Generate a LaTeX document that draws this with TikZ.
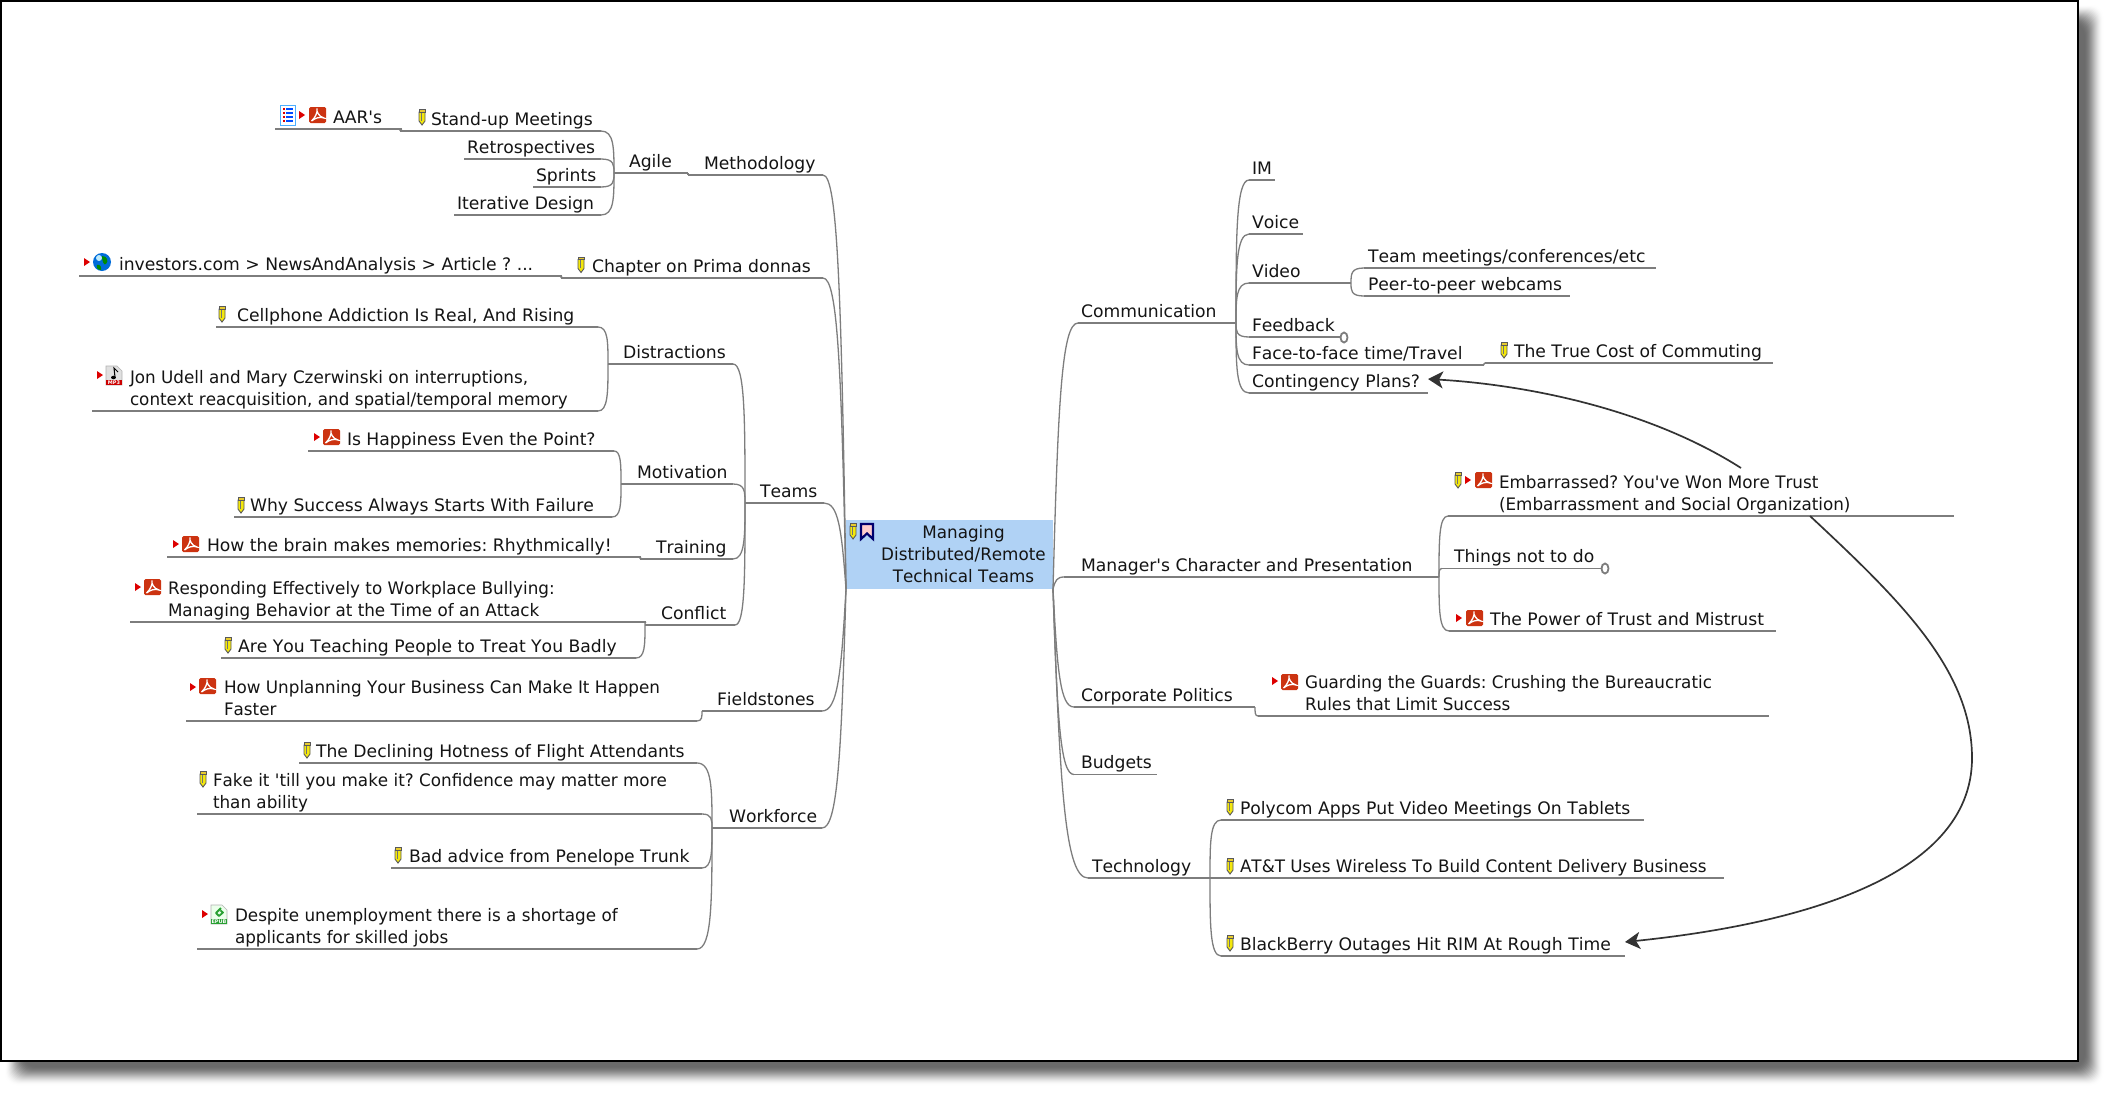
\documentclass[tikz,border=0pt]{standalone}
\usepackage{fontspec}
\newfontfamily\dejavu[Kerning=Off]{DejaVu Sans}
\newfontfamily\dejanar[Kerning=Off,FakeStretch=0.976]{DejaVu Sans}
\usetikzlibrary{calc,arrows.meta,shapes.geometric}
\definecolor{rootblue}{RGB}{176,210,245}
\definecolor{linegray}{RGB}{125,125,125}
\definecolor{pdfred}{RGB}{204,51,17}
\definecolor{tri}{RGB}{221,0,0}
\definecolor{navy2}{RGB}{0,0,110}
\definecolor{pink2}{RGB}{255,205,205}
\definecolor{epub}{RGB}{40,160,50}
\tikzset{
  x=1pt,y=-1pt,
  every node/.style={font=\dejavu\frenchspacing\fontsize{17.2}{22}\selectfont,text=black!92},
  topicbox/.style={inner sep=0pt,outer sep=0pt,anchor=south west},
  toptext/.style={inner sep=0pt,outer sep=0pt,anchor=south west,align=left},
  under/.style={draw=linegray,line width=1.3pt},
  link/.style={draw=linegray,line width=1.3pt},
  crosslink/.style={draw=black!80,line width=1.7pt,-{Stealth[length=15pt,width=17pt,inset=4pt]}},
  foldmark/.style={draw=linegray,line width=1.8pt,fill=white,ellipse,inner sep=0pt,minimum width=7pt,minimum height=10pt},
  penicon/.pic={
    \filldraw[draw=black!65,fill=yellow!95!black,line width=.9pt] (0,3) -- (6,3) -- (6,12) -- (3,16) -- (0,12) -- cycle;
    \fill[black!55] (1.8,3.5) rectangle (2.8,11.5);
    \filldraw[draw=black!65,fill=yellow!60!brown,line width=.9pt] (0,0.5) rectangle (6,3);
  },
  triicon/.pic={\fill[tri] (0,-4) -- (6,0) -- (0,4) -- cycle;},
  pdficon/.pic={
    \fill[pdfred,rounded corners=1.5pt] (0,0) rectangle (17,16);
    \draw[white,line width=1.3pt] (2.5,14) .. controls (6,11) and (9,5) .. (8,1.5) .. controls (7,4) and (10,10) .. (15,11) .. controls (11,9.5) and (6,11) .. (2.5,14);
  },
  listicon/.pic={
    \filldraw[draw=blue!45!cyan!70!white,fill=white,line width=1pt] (0.5,0.5) rectangle (15,20);
    \foreach \yy in {4,8,12,16}{
      \fill[tri] (2.5,\yy-1) rectangle (4.5,\yy+1);
      \fill[blue!70!cyan] (6,\yy-.6) rectangle (13,\yy+.6);
    }
  },
  globeicon/.pic={
    \fill[blue!50!cyan!85!black] (9,9) circle[radius=9];
    \fill[cyan!25!white] (6,5) circle[radius=3];
    \fill[green!55!black] (9,3) .. controls (14,3) and (16,8) .. (13,11) .. controls (11,13) and (9,8) .. (9,3);
    \fill[green!55!black] (4,12) .. controls (7,11) and (9,14) .. (8,17) .. controls (5,17) and (3,15) .. (4,12);
  },
  mpthreeicon/.pic={
    \filldraw[draw=black!30,fill=black!12,line width=.6pt] (0,0) -- (11,0) -- (16,5) -- (16,19) -- (0,19) -- cycle;
    \draw[black,line width=1pt] (9,11) -- (8,2) -- (12,6);
    \fill[black] (7.5,11.5) circle[x radius=2.4,y radius=1.8];
    \fill[red!80!black] (0,13.5) rectangle (16,19);
    \node[inner sep=0pt,text=white,font=\dejavu\fontsize{5}{5}\selectfont\bfseries] (mpthreelabel) at (8,16.3) {MP3};
  },
  epubicon/.pic={
    \filldraw[draw=black!30,fill=green!8,line width=.6pt] (0,0) -- (11,0) -- (16,5) -- (16,19) -- (0,19) -- cycle;
    \draw[epub,line width=1.8pt,line join=round] (10,3) -- (5,8) -- (8,11) -- (12,7.5) -- (9.5,5.5);
    \fill[epub] (0,13.5) rectangle (16,19);
    \node[inner sep=0pt,text=white,font=\dejavu\fontsize{5}{5}\selectfont\bfseries] (epublabel) at (8,16.3) {EPUB};
  },
  bookicon/.pic={
    \filldraw[draw=navy2,fill=pink2,line width=2.2pt] (0,0) -- (12,0) -- (12,15) -- (6,9.5) -- (0,15) -- cycle;
  },
}
% [box height]{name}{left}{right}{underline y}{text x}{text}
\newcommand\topic[7][28]{%
  \node[topicbox,minimum width={#4pt-#3pt},minimum height=#1pt] (#2) at (#3,#5) {};
  \draw[under] (#2.south west) -- (#2.south east);
  \node[toptext] (#2-t) at (#6,#5) {#7\rule[-5.9pt]{0pt}{1pt}};
}
\newcommand\fork[2]{%
  \draw[link] let \p1=(#1),\p2=(#2) in (\p1) .. controls ({\x1},{\y1+.6*(\y2-\y1)}) and ({\x1},{\y2}) .. (\p2);
}
\newcommand\rootlink[2]{%
  \draw[link] let \p1=(#1),\p2=(#2) in (\p1) .. controls ({\x1+.2*(\x2-\x1)},{\y1+.7*(\y2-\y1)}) and ({\x2+.65*(\x1-\x2)},{\y2}) .. (\p2);
}
\begin{document}
\begin{tikzpicture}
\path[use as bounding box,fill=white] (0,0) rectangle (2109,1092);
% drop shadow
\foreach \i in {0,...,20}{
  \pgfmathsetmacro\tval{\i/20}
  \pgfmathsetmacro\pct{58*(3*\tval*\tval-2*\tval*\tval*\tval)}
  \fill[black!\pct,rounded corners=12pt] (4+\i,4+\i) rectangle (2104-\i,1086-\i);
}
\filldraw[fill=white,draw=black,line width=2.4pt] (1.2,1.2) rectangle (2077.8,1060.8);

% root
\node[inner sep=0pt,outer sep=0pt,fill=rootblue,minimum width=207pt,minimum height=69pt] (root) at (949.5,554.5) {};
\node[inner sep=0pt,align=center] (root-t) at (963.5,554.5) {\dejanar Managing\\\dejanar Distributed/Remote\\\dejanar Technical Teams};
\pic at (850,523) {penicon};
\pic at (861,524) {bookicon};

% left side
\topic{methodology}{688}{823}{175}{704}{Methodology}
\topic{agile}{614}{688}{173}{629}{Agile}
\topic{standup}{400}{601}{131}{431}{Stand-up Meetings}
\topic{aars}{275}{402}{129}{333}{AAR's}
\topic{retro}{464}{601}{159}{467}{Retrospectives}
\topic{sprints}{533}{601}{187}{536}{Sprints}
\topic{iter}{454}{601}{215}{457}{Iterative Design}
\topic{chapter}{561}{823}{278}{592}{Chapter on Prima donnas}
\topic{investors}{79}{562}{276}{119}{investors.com > NewsAndAnalysis > Article ? ...}
\topic{teams}{745}{824}{503}{760}{Teams}
\topic{distractions}{608}{733}{364}{623}{Distractions}
\topic{cellphone}{216}{598}{327}{237}{Cellphone Addiction Is Real, And Rising}
\topic[50]{jon}{92}{598}{411}{130}{\dejanar Jon Udell and Mary Czerwinski on interruptions,\\\dejanar context reacquisition, and spatial/temporal memory}
\topic{motivation}{621}{733}{484}{637}{Motivation}
\topic{happiness}{308}{614}{451}{347}{Is Happiness Even the Point?}
\topic{whysuccess}{234}{612}{517}{250}{Why Success Always Starts With Failure}
\topic{training}{640}{733}{559}{656}{Training}
\topic{brain}{167}{641}{557}{207}{How the brain makes memories: Rhythmically!}
\topic{conflict}{645}{735}{625}{661}{Conflict}
\topic[50]{responding}{130}{646}{622}{168}{\dejanar Responding Effectively to Workplace Bullying:\\\dejanar Managing Behavior at the Time of an Attack}
\topic{teaching}{221}{636}{658}{238}{Are You Teaching People to Treat You Badly}
\topic{fieldstones}{702}{822}{711}{717}{Fieldstones}
\topic[50]{unplanning}{186}{697}{721}{224}{\dejanar How Unplanning Your Business Can Make It Happen\\\dejanar Faster}
\topic{workforce}{712}{822}{828}{729}{Workforce}
\topic{declining}{299}{697}{763}{316}{The Declining Hotness of Flight Attendants}
\topic[50]{fake}{197}{702}{814}{213}{\dejanar Fake it 'till you make it? Confidence may matter more\\\dejanar than ability}
\topic{badadvice}{391}{702}{868}{409}{Bad advice from Penelope Trunk}
\topic[50]{despite}{197}{697}{949}{235}{\dejanar Despite unemployment there is a shortage of\\\dejanar applicants for skilled jobs}

% right side
\topic{comm}{1078}{1236}{323}{1081}{Communication}
\topic{im}{1249}{1275}{180}{1252}{IM}
\topic{voice}{1249}{1303}{234}{1252}{Voice}
\topic{video}{1249}{1351}{283}{1252}{Video}
\topic{teammeet}{1364}{1656}{268}{1368}{Team meetings/conferences/etc}
\topic{peer}{1364}{1570}{296}{1368}{Peer-to-peer webcams}
\topic{feedback}{1249}{1340}{337}{1252}{Feedback}
\topic{face}{1249}{1484}{365}{1252}{Face-to-face time/Travel}
\topic{truecost}{1485}{1773}{363}{1514}{The True Cost of Commuting}
\topic{cont}{1249}{1428}{393}{1252}{Contingency Plans?}
\topic{manager}{1064}{1439}{577}{1081}{Manager's Character and Presentation}
\topic[50]{emb}{1448}{1954}{516}{1499}{\dejanar Embarrassed? You've Won More Trust\\\dejanar (Embarrassment and Social Organization)}
\topic{things}{1442}{1601}{568.5}{1454}{Things not to do}
\topic{power}{1449}{1776}{631}{1490}{The Power of Trust and Mistrust}
\topic{corporate}{1074}{1255}{707}{1081}{Corporate Politics}
\topic[50]{guarding}{1258}{1769}{716}{1305}{\dejanar Guarding the Guards: Crushing the Bureaucratic\\\dejanar Rules that Limit Success}
\topic{budgets}{1074}{1157}{774.5}{1081}{Budgets}
\topic{tech}{1088}{1210}{878}{1092}{Technology}
\topic{polycom}{1221}{1644}{820}{1240}{Polycom Apps Put Video Meetings On Tablets}
\topic{att}{1222}{1724}{878}{1240}{\dejanar AT\&T Uses Wireless To Build Content Delivery Business}
\topic{bb}{1221}{1625}{956}{1240}{BlackBerry Outages Hit RIM At Rough Time}

% connectors: root
\foreach \c in {methodology,chapter,teams,fieldstones,workforce}{\rootlink{root.south west}{\c.south east}}
\foreach \c in {comm,manager,corporate,budgets,tech}{\rootlink{root.south east}{\c.south west}}
% connectors: left forks
\fork{methodology.south west}{agile.south east}
\foreach \c in {standup,retro,sprints,iter}{\fork{agile.south west}{\c.south east}}
\fork{standup.south west}{aars.south east}
\fork{chapter.south west}{investors.south east}
\foreach \c in {distractions,motivation,training,conflict}{\fork{teams.south west}{\c.south east}}
\foreach \c in {cellphone,jon}{\fork{distractions.south west}{\c.south east}}
\foreach \c in {happiness,whysuccess}{\fork{motivation.south west}{\c.south east}}
\fork{training.south west}{brain.south east}
\foreach \c in {responding,teaching}{\fork{conflict.south west}{\c.south east}}
\fork{fieldstones.south west}{unplanning.south east}
\foreach \c in {declining,fake,badadvice,despite}{\fork{workforce.south west}{\c.south east}}
% connectors: right forks
\foreach \c in {im,voice,video,feedback,face,cont}{\fork{comm.south east}{\c.south west}}
\foreach \c in {teammeet,peer}{\fork{video.south east}{\c.south west}}
\fork{face.south east}{truecost.south west}
\foreach \c in {emb,things,power}{\fork{manager.south east}{\c.south west}}
\fork{corporate.south east}{guarding.south west}
\foreach \c in {polycom,att,bb}{\fork{tech.south east}{\c.south west}}

% folded-branch markers
\node[foldmark] (fbk-fold) at (1344,337.5) {};
\node[foldmark] (thg-fold) at (1605,568.5) {};

% cross links
\coordinate (embtop) at (1741,468);
\coordinate (embbot) at (1810,516);
\coordinate (bulge) at (1972,758);
\draw[crosslink] (embtop) .. controls (1650,410) and (1530,385) .. (cont.east);
\draw[crosslink] (embbot) .. controls (1900,600) and (1972,670) .. (bulge) .. controls (1972,880) and (1790,925) .. (bb.east);

% icons
\pic at (280,105) {listicon};
\pic at (299,115) {triicon};
\pic at (309,107) {pdficon};
\pic at (419,109) {penicon};
\pic at (84,262) {triicon};
\pic at (93,253) {globeicon};
\pic at (578,256.5) {penicon};
\pic at (219,306) {penicon};
\pic at (97,375) {triicon};
\pic at (106,366) {mpthreeicon};
\pic at (314,437) {triicon};
\pic at (323,429) {pdficon};
\pic at (238,497) {penicon};
\pic at (173,544) {triicon};
\pic at (182,536) {pdficon};
\pic at (135,587) {triicon};
\pic at (144,579) {pdficon};
\pic at (225,637) {penicon};
\pic at (190,687) {triicon};
\pic at (199,678) {pdficon};
\pic at (304,742) {penicon};
\pic at (200,771) {penicon};
\pic at (395,847) {penicon};
\pic at (202,914) {triicon};
\pic at (211,905) {epubicon};
\pic at (1501,342) {penicon};
\pic at (1455,472) {penicon};
\pic at (1465,480) {triicon};
\pic at (1475,472) {pdficon};
\pic at (1456,618) {triicon};
\pic at (1466,610) {pdficon};
\pic at (1272,681) {triicon};
\pic at (1281,674) {pdficon};
\pic at (1227,799) {penicon};
\pic at (1227,858) {penicon};
\pic at (1227,935) {penicon};
\end{tikzpicture}
\end{document}
